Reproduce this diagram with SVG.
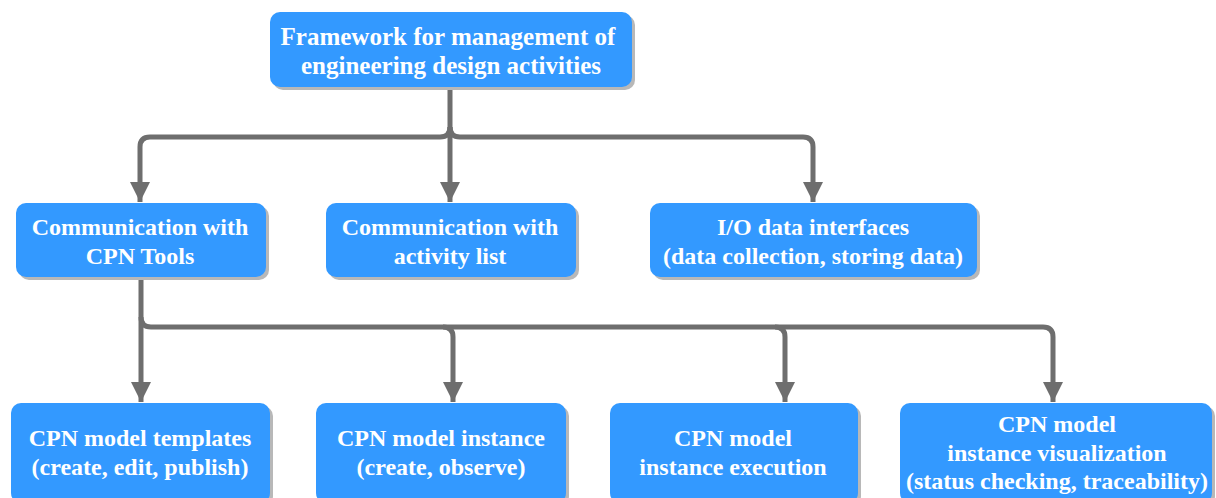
<svg xmlns="http://www.w3.org/2000/svg" width="1216" height="498" viewBox="0 0 1216 498">
<defs>
<style>
.box{fill:#3399ff}
.sh{fill:#b8b8b8}
.t{font-family:"Liberation Serif","Times New Roman",serif;font-weight:bold;font-size:24px;fill:#ffffff;text-anchor:middle}
.c{fill:none;stroke:#6e6e6e;stroke-width:5;stroke-linejoin:round}
</style>
<marker id="ah" viewBox="0 0 10 10" refX="10" refY="5" markerWidth="4" markerHeight="4" markerUnits="strokeWidth" orient="auto">
<path d="M0,0 L10,5 L0,10 Z" fill="#6e6e6e"/>
</marker>
</defs>
<rect width="1216" height="498" fill="#ffffff"/>
<g id="connectors">
<path class="c" d="M450,87 V127 Q450,137 440,137 H150 Q140,137 140,147 V202" marker-end="url(#ah)"/>
<path class="c" d="M450,127 V202" marker-end="url(#ah)"/>
<path class="c" d="M450,127 Q450,137 460,137 H803 Q813,137 813,147 V202" marker-end="url(#ah)"/>
<path class="c" d="M141,277 V317 Q141,327 151,327 H1043 Q1053,327 1053,337 V402" marker-end="url(#ah)"/>
<path class="c" d="M141,317 V402" marker-end="url(#ah)"/>
<path class="c" d="M443,327 Q453,327 453,337 V402" marker-end="url(#ah)"/>
<path class="c" d="M775,327 Q785,327 785,337 V402" marker-end="url(#ah)"/>
</g>
<g id="n0">
<rect class="sh" x="273" y="15" width="362" height="75" rx="10"/>
<rect class="box" x="270" y="12" width="362" height="75" rx="10"/>
<text class="t" x="448" y="45" style="font-size:25px">Framework for management of</text>
<text class="t" x="451" y="74" style="font-size:25px">engineering design activities</text>
</g>
<g id="n1">
<rect class="sh" x="19" y="206" width="250" height="74" rx="10"/>
<rect class="box" x="16" y="203" width="250" height="74" rx="10"/>
<text class="t" x="140" y="235">Communication with</text>
<text class="t" x="140" y="264">CPN Tools</text>
</g>
<g id="n2">
<rect class="sh" x="329" y="206" width="250" height="74" rx="10"/>
<rect class="box" x="326" y="203" width="250" height="74" rx="10"/>
<text class="t" x="450" y="235">Communication with</text>
<text class="t" x="450" y="264">activity list</text>
</g>
<g id="n3">
<rect class="sh" x="653" y="206" width="327" height="74" rx="10"/>
<rect class="box" x="650" y="203" width="327" height="74" rx="10"/>
<text class="t" x="813" y="235">I/O data interfaces</text>
<text class="t" x="813" y="264">(data collection, storing data)</text>
</g>
<g id="n4">
<rect class="sh" x="14" y="406" width="259" height="100" rx="10"/>
<rect class="box" x="11" y="403" width="259" height="100" rx="10"/>
<text class="t" x="140" y="446">CPN model templates</text>
<text class="t" x="140" y="475">(create, edit, publish)</text>
</g>
<g id="n5">
<rect class="sh" x="319" y="406" width="250" height="100" rx="10"/>
<rect class="box" x="316" y="403" width="250" height="100" rx="10"/>
<text class="t" x="441" y="446">CPN model instance</text>
<text class="t" x="441" y="475">(create, observe)</text>
</g>
<g id="n6">
<rect class="sh" x="613" y="406" width="248" height="100" rx="10"/>
<rect class="box" x="610" y="403" width="248" height="100" rx="10"/>
<text class="t" x="733" y="446">CPN model</text>
<text class="t" x="733" y="475">instance execution</text>
</g>
<g id="n7">
<rect class="sh" x="903" y="406" width="312" height="100" rx="10"/>
<rect class="box" x="900" y="403" width="312" height="100" rx="10"/>
<text class="t" x="1057" y="432">CPN model</text>
<text class="t" x="1057" y="461">instance visualization</text>
<text class="t" x="1057" y="489">(status checking, traceability)</text>
</g>
</svg>
